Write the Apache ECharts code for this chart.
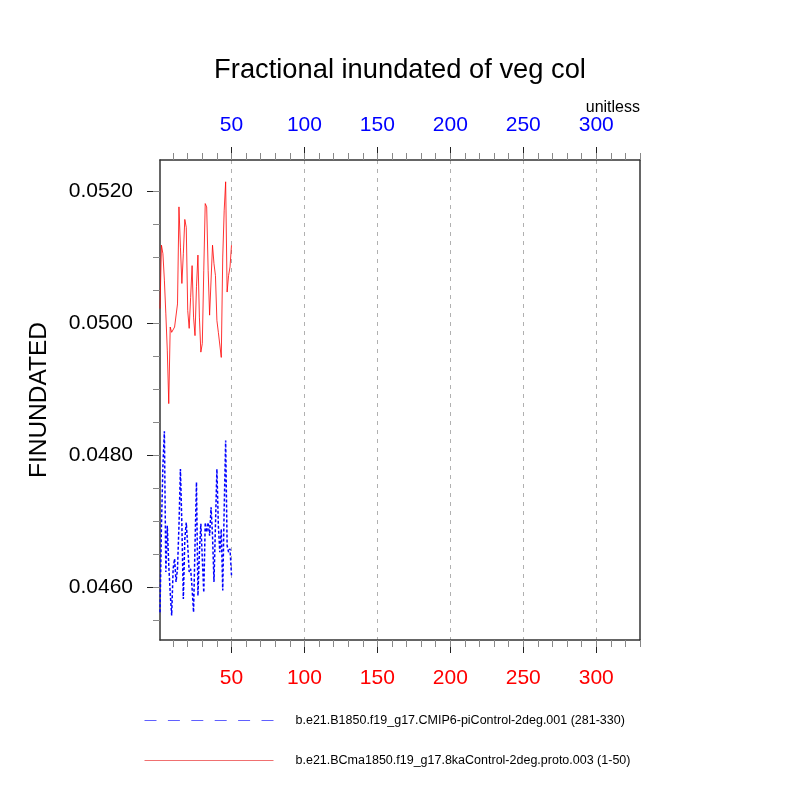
<!DOCTYPE html>
<html>
<head>
<meta charset="utf-8">
<script src="https://cdn.jsdelivr.net/npm/echarts@6/dist/echarts.min.js"></script>
<style>html,body{margin:0;padding:0;background:#fff}#c{width:800px;height:800px}</style>
</head>
<body>
<div id="c"></div>
<script>
// ---- data ----
const years = [1,2,3,4,5,6,7,8,9,10,11,12,13,14,15,16,17,18,19,20,21,22,23,24,25,26,27,28,29,30,31,32,33,34,35,36,37,38,39,40,41,42,43,44,45,46,47,48,49,50];
const redName = 'b.e21.BCma1850.f19_g17.8kaControl-2deg.proto.003 (1-50)';
const blueName = 'b.e21.B1850.f19_g17.CMIP6-piControl-2deg.001 (281-330)';
const redValues = [0.05022,0.05118,0.05105,0.05065,0.05014,0.04959,0.04878,0.04994,0.04986,0.04984,
  0.04994,0.04994,0.05029,0.05176,0.05115,0.05060,0.05105,0.05157,0.05145,0.05019,
  0.04992,0.05039,0.05087,0.05009,0.04981,0.05055,0.05103,0.05009,0.04956,0.04969,
  0.05080,0.05181,0.05176,0.05080,0.05012,0.05014,0.05118,0.05090,0.05072,0.05004,
  0.04986,0.04986,0.04948,0.05100,0.05171,0.05214,0.05047,0.05072,0.05085,0.05118];
const blueValues = [0.04562,0.04693,0.04784,0.04836,0.04623,0.04693,0.04633,0.04592,0.04557,0.04628,
  0.04643,0.04608,0.04628,0.04693,0.04779,0.04693,0.04582,0.04673,0.04698,0.04663,
  0.04623,0.04628,0.04598,0.04562,0.04663,0.04759,0.04587,0.04653,0.04696,0.04643,
  0.04592,0.04698,0.04683,0.04698,0.04678,0.04721,0.04678,0.04608,0.04693,0.04779,
  0.04693,0.04653,0.04688,0.04595,0.04719,0.04822,0.04663,0.04653,0.04658,0.04618];
const xMajorTicks = [50,100,150,200,250,300];
const xMinorTicks = [10,20,30,40,50,60,70,80,90,100,110,120,130,140,150,160,170,180,190,200,210,220,230,240,250,260,270,280,290,300,310,320,330];
const yMajorTicks = [0.046,0.048,0.050,0.052];
const yMinorTicks = [0.0455,0.0460,0.0465,0.0470,0.0475,0.0480,0.0485,0.0490,0.0495,0.0500,0.0505,0.0510,0.0515,0.0520];
const xMin = 1, xMax = 330, yMin = 0.04520, yMax = 0.05247;

const FONT = 'Liberation Sans, Arial, Helvetica, sans-serif';
const gridPos = {left:160, right:160, top:160, bottom:160};
const frame = {show:true, lineStyle:{color:'#333', width:1.5}};

const chart = echarts.init(document.getElementById('c'), null, {renderer:'canvas'});
chart.setOption({
  animation:false,
  backgroundColor:'#fff',
  title:[
    {text:'Fractional inundated of veg col', left:'center', top:52,
     textStyle:{fontFamily:FONT, fontSize:27.3, fontWeight:'normal', color:'#000'}},
    {text:'unitless', right:160, top:100, padding:0,
     textStyle:{fontFamily:FONT, fontSize:16, fontWeight:'normal', color:'#000'}}
  ],
  grid:[Object.assign({}, gridPos), Object.assign({}, gridPos)],
  legend:{
    orient:'vertical', left:144, top:714, padding:0, itemWidth:129, itemHeight:14, itemGap:27,
    itemStyle:{color:'rgba(0,0,0,0)', borderWidth:0, opacity:0},
    data:[
      {name:blueName, lineStyle:{type:[12,11.4], width:1, color:'#6060ff'}},
      {name:redName, lineStyle:{width:1, color:'#f07070'}}
    ],
    textStyle:{fontFamily:FONT, fontSize:12.5, color:'#000', padding:[0,0,0,17]}
  },
  xAxis:[
    {gridIndex:0, type:'value', position:'bottom', min:xMin, max:xMax,
     axisLine:frame,
     axisTick:{show:true, inside:false, length:13, customValues:xMajorTicks, lineStyle:{color:'#222', width:1}},
     axisLabel:{show:true, customValues:xMajorTicks, margin:28, color:'#ff0000', fontFamily:FONT, fontSize:21},
     splitLine:{show:true, lineStyle:{type:[4,5], color:'#b0b0b0', width:1}}},
    {gridIndex:0, type:'value', position:'top', min:xMin, max:xMax,
     axisLine:frame,
     axisTick:{show:true, inside:false, length:13, customValues:xMajorTicks, lineStyle:{color:'#222', width:1}},
     axisLabel:{show:true, customValues:xMajorTicks, margin:24, color:'#0000ff', fontFamily:FONT, fontSize:21},
     splitLine:{show:false}},
    {gridIndex:1, type:'value', position:'bottom', min:xMin, max:xMax,
     axisLine:{show:false},
     axisTick:{show:true, inside:false, length:7, customValues:xMinorTicks, lineStyle:{color:'#888', width:1}},
     axisLabel:{show:false}, splitLine:{show:false}},
    {gridIndex:1, type:'value', position:'top', min:xMin, max:xMax,
     axisLine:{show:false},
     axisTick:{show:true, inside:false, length:7, customValues:xMinorTicks, lineStyle:{color:'#888', width:1}},
     axisLabel:{show:false}, splitLine:{show:false}}
  ],
  yAxis:[
    {gridIndex:0, type:'value', position:'left', min:yMin, max:yMax,
     name:'FINUNDATED', nameLocation:'middle', nameGap:108, nameRotate:90,
     nameTextStyle:{fontFamily:FONT, fontSize:24.5, color:'#000'},
     axisLine:frame,
     axisTick:{show:true, inside:false, length:13, customValues:yMajorTicks, lineStyle:{color:'#222', width:1}},
     axisLabel:{show:true, customValues:yMajorTicks, margin:27, color:'#000', fontFamily:FONT, fontSize:21,
       formatter:function(v){return Number(v).toFixed(4);}},
     splitLine:{show:false}},
    {gridIndex:0, type:'value', position:'right', min:yMin, max:yMax,
     axisLine:frame, axisTick:{show:false}, axisLabel:{show:false}, splitLine:{show:false}},
    {gridIndex:1, type:'value', position:'left', min:yMin, max:yMax,
     axisLine:{show:false},
     axisTick:{show:true, inside:false, length:7, customValues:yMinorTicks, lineStyle:{color:'#888', width:1}},
     axisLabel:{show:false}, splitLine:{show:false}}
  ],
  series:[
    {name:blueName, type:'line', xAxisIndex:0, yAxisIndex:0, symbol:'none', showSymbol:false,
     data:years.map((x,i)=>[x, blueValues[i]]),
     lineStyle:{color:'#0000ff', width:1.5, type:[3,2]}, itemStyle:{color:'#0000ff'}},
    {name:redName, type:'line', xAxisIndex:0, yAxisIndex:0, symbol:'none', showSymbol:false,
     data:years.map((x,i)=>[x, redValues[i]]),
     lineStyle:{color:'#ff0000', width:0.8}, itemStyle:{color:'#ff0000'}}
  ]
});
</script>
</body>
</html>
